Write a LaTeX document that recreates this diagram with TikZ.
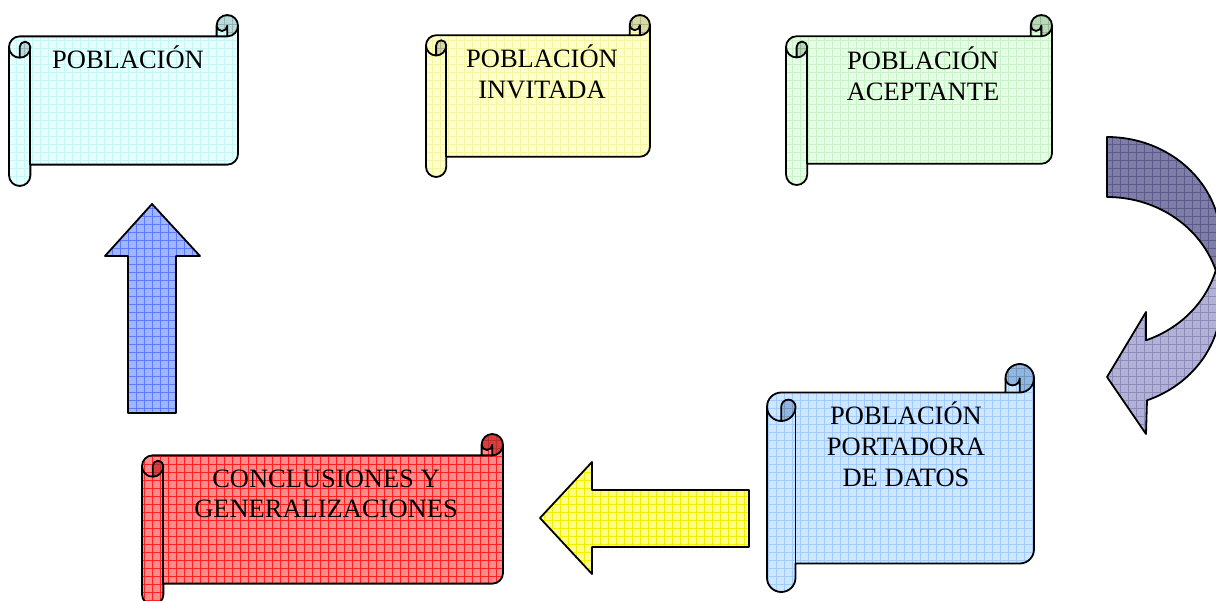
\documentclass[tikz,border=0pt]{standalone}
\usepackage{fontspec}
\setmainfont{Liberation Serif}

% fills and grid colours
\definecolor{cyanfill}{HTML}{E6FFFF}
\definecolor{cyangrid}{HTML}{C6F6F6}
\definecolor{cyandark}{HTML}{B8DCDC}
\definecolor{yelfill}{HTML}{FFFFCC}
\definecolor{yelgrid}{HTML}{F5F5A0}
\definecolor{yeldark}{HTML}{D8D8A4}
\definecolor{grnfill}{HTML}{E4FFE4}
\definecolor{grngrid}{HTML}{C8F2C8}
\definecolor{grndark}{HTML}{B6DAB6}
\definecolor{bluefill}{HTML}{CFE6FF}
\definecolor{bluegrid}{HTML}{A0CCFF}
\definecolor{bluedark}{HTML}{90B6E4}
\definecolor{redfill}{HTML}{FF8C8C}
\definecolor{redgrid}{HTML}{FF2020}
\definecolor{reddark}{HTML}{DC3C3C}
\definecolor{arryel}{HTML}{FFFF84}
\definecolor{arryelgrid}{HTML}{F2F000}
\definecolor{arrblue}{HTML}{A2B6FF}
\definecolor{arrbluegrid}{HTML}{5C7CFF}
\definecolor{curvedark}{HTML}{7E7EA8}
\definecolor{curvedarkgrid}{HTML}{5C5C8C}
\definecolor{curvelight}{HTML}{B2B2D6}
\definecolor{curvelightgrid}{HTML}{8C8CBC}

\tikzset{
  outline/.style={draw=black, line width=1.8, line join=round},
  pat/.style 2 args={fill=#1, path picture={\draw[#2, line width=0.5, step=8]
      (path picture bounding box.south west) grid (path picture bounding box.north east);}},
  lbl/.style={anchor=base, inner sep=0, font=\fontsize{26.5}{31}\selectfont},
}

\newcommand\linesc[1]{\begin{tabular}[t]{@{}c@{}}#1\end{tabular}}

% horizontal scroll: left, top, right, bottom, fill, grid, shaded roll colour
\newcommand\scrollshape[7]{%
  \pgfmathsetmacro\scL{#1}\pgfmathsetmacro\scT{#2}%
  \pgfmathsetmacro\scR{#3}\pgfmathsetmacro\scB{#4}%
  \pgfmathsetmacro\scC{0.125*min(\scR-\scL,\scB-\scT)}%
  \pgfmathsetmacro\scH{\scC/2}\pgfmathsetmacro\scQ{\scC/4}%
  \path[pat={#5}{#6}] (\scL,\scT+1.5*\scC) arc[start angle=180,end angle=270,radius=\scH]
    -- (\scR-\scC,\scT+\scC) -- (\scR-\scC,\scT+\scH) arc[start angle=180,end angle=360,radius=\scH]
    -- (\scR,\scB-1.5*\scC) arc[start angle=0,end angle=90,radius=\scH]
    -- (\scL+\scC,\scB-\scC) -- (\scL+\scC,\scB-\scH) arc[start angle=0,end angle=180,radius=\scH] -- cycle;
  \path[pat={#7}{#7!82!black}] (\scR-\scC,\scT+\scH) arc[start angle=180,end angle=360,radius=\scH]
    arc[start angle=0,end angle=90,radius=\scH] -- (\scR-\scH,\scT+\scH)
    arc[start angle=0,end angle=180,radius=\scQ] -- cycle;
  \path[pat={#7}{#7!82!black}] (\scL+\scH,\scT+1.5*\scC) arc[start angle=180,end angle=360,radius=\scQ]
    arc[start angle=0,end angle=90,radius=\scH] -- cycle;
  \draw[outline] (\scL,\scT+1.5*\scC) arc[start angle=180,end angle=270,radius=\scH]
    -- (\scR-\scC,\scT+\scC) -- (\scR-\scC,\scT+\scH) arc[start angle=180,end angle=360,radius=\scH]
    -- (\scR,\scB-1.5*\scC) arc[start angle=0,end angle=90,radius=\scH]
    -- (\scL+\scC,\scB-\scC) -- (\scL+\scC,\scB-\scH) arc[start angle=0,end angle=180,radius=\scH] -- cycle;
  \draw[outline] (\scR-\scC,\scT+\scC) -- (\scR-\scH,\scT+\scC) arc[start angle=90,end angle=0,radius=\scH];
  \draw[outline] (\scR-\scH,\scT+\scC) -- (\scR-\scH,\scT+\scH) arc[start angle=0,end angle=180,radius=\scQ];
  \draw[outline] (\scL+\scH,\scT+2*\scC) -- (\scL+\scH,\scT+1.5*\scC)
    arc[start angle=180,end angle=360,radius=\scQ] arc[start angle=0,end angle=180,radius=\scH];
  \draw[outline] (\scL+\scC,\scT+1.5*\scC) -- (\scL+\scC,\scB-\scC);
}

\begin{document}
\begin{tikzpicture}[x=1pt, y=1pt, yscale=-1]
\useasboundingbox (0,0) rectangle (1216,601);
\clip (0,0) rectangle (1216,601);

% scrolls
\scrollshape{9}{15}{238}{186}{cyanfill}{cyangrid}{cyandark}
\scrollshape{426}{15}{650}{177}{yelfill}{yelgrid}{yeldark}
\scrollshape{786}{15}{1052}{185}{grnfill}{grngrid}{grndark}
\scrollshape{767}{364}{1034}{592}{bluefill}{bluegrid}{bluedark}
\scrollshape{142}{434}{503}{605}{redfill}{redgrid}{reddark}

\node[lbl] (pob) at (128,69) {POBLACIÓN};
\node[lbl] (inv) at (542,68) {\linesc{POBLACIÓN\\INVITADA}};
\node[lbl] (ace) at (923,70) {\linesc{POBLACIÓN\\ACEPTANTE}};
\node[lbl] (por) at (906,425) {\linesc{POBLACIÓN\\PORTADORA\\DE DATOS}};
\node[lbl] (con) at (326,487) {\linesc{CONCLUSIONES Y\\GENERALIZACIONES}};

% curved arrow on the right
\path[pat={curvelight}{curvelightgrid}] (1107,377) -- (1146,312) -- (1146,340.3)
  arc[start angle=69.46,end angle=0,x radius=114,y radius=105] -- (1221,302)
  arc[start angle=0,end angle=69.46,x radius=114,y radius=105] -- (1146,434) -- cycle;
\path[pat={curvedark}{curvedarkgrid}] (1221,302)
  arc[start angle=0,end angle=-90,x radius=114,y radius=105] -- (1107,137)
  arc[start angle=-90,end angle=0,x radius=114,y radius=105] -- cycle;
\draw[outline] (1221,302) arc[start angle=0,end angle=-90,x radius=114,y radius=105]
  -- (1107,137) arc[start angle=-90,end angle=0,x radius=114,y radius=105]
  -- (1221,302) arc[start angle=0,end angle=69.46,x radius=114,y radius=105]
  -- (1146,434) -- (1107,377) -- (1146,312) -- (1146,340.3)
  arc[start angle=69.46,end angle=0,x radius=114,y radius=105];

% block arrows
\draw[outline, pat={arryel}{arryelgrid}] (540,518) -- (592,462) -- (592,490) -- (749,490)
  -- (749,547) -- (592,547) -- (592,574) -- cycle;
\draw[outline, pat={arrblue}{arrbluegrid}] (152,204) -- (200,256) -- (176,256) -- (176,413)
  -- (128,413) -- (128,256) -- (105,256) -- cycle;
\end{tikzpicture}
\end{document}
